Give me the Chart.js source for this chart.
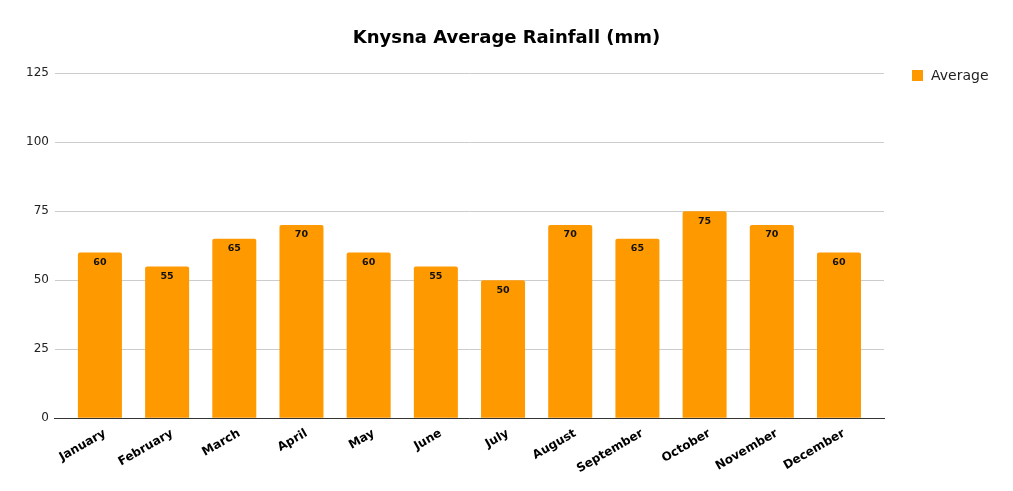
<!DOCTYPE html>
<html>
<head>
<meta charset="utf-8">
<script src="https://cdn.jsdelivr.net/npm/chart.js@4"></script>
<style>
  body { margin: 0; background: #fff; }
  #wrap { width: 1013px; height: 491px; }
</style>
</head>
<body>
<div id="wrap"><canvas id="rainChart" width="1013" height="491"></canvas></div>
<script>
const months = ['January', 'February', 'March', 'April', 'May', 'June', 'July',
    'August', 'September', 'October', 'November', 'December'];
const averageRain = [60, 55, 65, 70, 60, 55, 50, 70, 65, 75, 70, 60];
const yTicks = [0, 25, 50, 75, 100, 125];
const seriesName = 'Average';
const chartTitle = 'Knysna Average Rainfall (mm)';
const barColor = '#ff9900';

// draws the value just inside the top of each bar
const barValues = {
    id: 'barValues',
    afterDatasetsDraw(chart) {
        const ctx = chart.ctx;
        const meta = chart.getDatasetMeta(0);
        ctx.save();
        ctx.font = 'bold 9.5px "DejaVu Sans"';
        ctx.fillStyle = '#111';
        ctx.textAlign = 'center';
        ctx.textBaseline = 'middle';
        meta.data.forEach((bar, i) => {
            ctx.fillText(averageRain[i], bar.x, bar.y + 10);
        });
        ctx.restore();
    }
};

// title centred on the whole canvas, legend on the right level with the plot top
const titleAndLegend = {
    id: 'titleAndLegend',
    afterDraw(chart) {
        const ctx = chart.ctx;
        const area = chart.chartArea;
        ctx.save();
        ctx.font = 'bold 18px "DejaVu Sans"';
        ctx.fillStyle = '#000';
        ctx.textAlign = 'center';
        ctx.textBaseline = 'middle';
        ctx.fillText(chartTitle, chart.width / 2, 38);

        const x = area.right + 28;
        const y = area.top + 2;
        ctx.fillStyle = barColor;
        ctx.fillRect(x, y - 5, 11, 11);
        ctx.font = '14px "DejaVu Sans"';
        ctx.fillStyle = '#222';
        ctx.textAlign = 'left';
        ctx.fillText(seriesName, x + 19, y + 1);
        ctx.restore();
    }
};

new Chart(document.getElementById('rainChart').getContext('2d'), {
    type: 'bar',
    data: {
        labels: months,
        datasets: [{
            label: seriesName,
            data: averageRain,
            backgroundColor: barColor,
            borderRadius: { topLeft: 2, topRight: 2 },
            borderSkipped: 'bottom',
            categoryPercentage: 0.655,
            barPercentage: 1
        }]
    },
    options: {
        responsive: false,
        animation: false,
        layout: { padding: { left: 20, right: 129, top: 73, bottom: 7 } },
        plugins: {
            title: { display: false },
            legend: { display: false },
            tooltip: { enabled: false }
        },
        scales: {
            x: {
                // the source leaves a full bar gap at both ends of the axis
                afterBuildTicks(axis) {
                    axis._startValue = -0.67;
                    axis._valueRange = months.length - 1 + 2 * 0.67;
                },
                grid: { display: false, drawTicks: false },
                border: { color: '#333', width: 1 },
                ticks: {
                    color: '#000',
                    font: { family: 'DejaVu Sans', size: 12, weight: 'bold' },
                    minRotation: 30,
                    maxRotation: 30,
                    labelOffset: 5,
                    padding: 8
                }
            },
            y: {
                min: 0,
                max: 125,
                afterBuildTicks(axis) {
                    axis.ticks = yTicks.map(v => ({ value: v }));
                },
                grid: { color: '#cccccc', drawTicks: false },
                border: { display: false },
                ticks: {
                    color: '#222',
                    font: { family: 'DejaVu Sans', size: 12 },
                    padding: 6
                }
            }
        }
    },
    plugins: [barValues, titleAndLegend]
});
</script>
</body>
</html>
